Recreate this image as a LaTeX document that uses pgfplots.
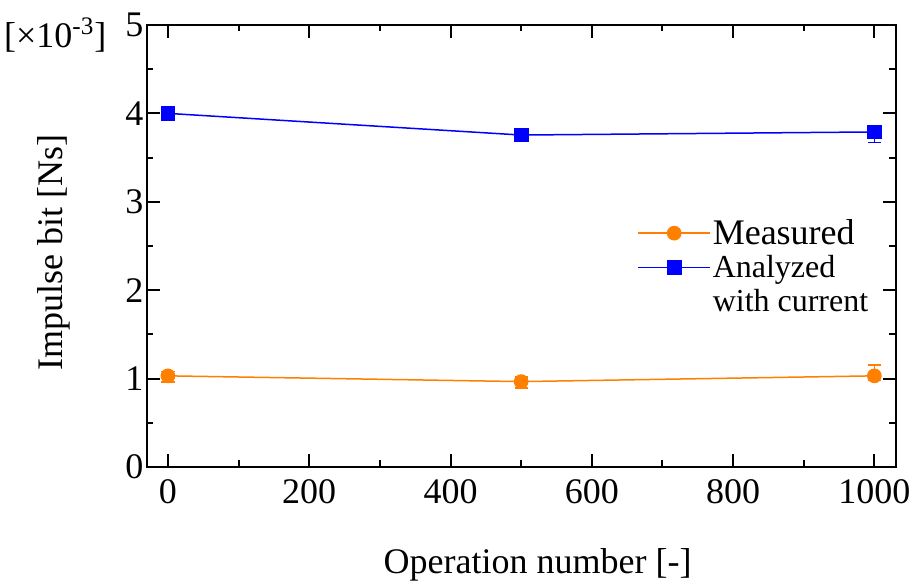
\documentclass[border=0pt]{standalone}
\usepackage{pgfplots}
\pgfplotsset{compat=1.18}
\usepackage{fontspec}
\setmainfont{Liberation Serif}

\definecolor{measured}{RGB}{255,128,0}
\definecolor{analyzed}{RGB}{0,0,255}

\begin{document}
\begin{tikzpicture}[font=\fontsize{18}{21.6}\selectfont]
\begin{axis}[
  scale only axis,
  width=374.5pt, height=221pt,
  xmin=-30, xmax=1030,
  ymin=0, ymax=5,
  xtick={0,200,...,1000},
  ytick={0,1,...,5},
  minor x tick num=1,
  minor y tick num=1,
  tick align=inside,
  major tick length=6.5pt,
  minor tick length=3.2pt,
  axis line style={line width=1pt},
  every tick/.style={line width=1pt, black},
  /pgf/number format/assume math mode=true,
  /pgf/number format/1000 sep={},
  yticklabel style={inner xsep=1.5pt},
  xticklabel style={inner ysep=6pt},
  xlabel={Operation number [-]},
  ylabel={Impulse bit [Ns]},
  xlabel style={at={(rel axis cs:0.522,-0.222)}, anchor=center},
  ylabel style={at={(rel axis cs:-0.124,0.486)}, anchor=center},
  clip=false,
  legend cell align=left,
  legend style={draw=none, fill=none, at={(rel axis cs:0.655,0.566)}, anchor=north west,
    row sep=1.5pt, inner sep=0pt,
    nodes={inner sep=1pt}},
  legend image code/.code={%
    \draw[mark repeat=2, mark phase=2, #1] plot coordinates {(0cm,0cm) (0.63cm,0cm) (1.26cm,0cm)};},
]
% measured impulse bit with error bars
\addplot[color=measured, line width=0.75pt, mark=*, mark size=3.3pt,
  error bars/.cd, y dir=both, y explicit,
  error bar style={line width=0.75pt},
  error mark=-,
  error mark options={line width=0.75pt, mark size=3.3pt, rotate=90}]
  table[x=x, y=y, y error plus=ep, y error minus=em] {
  x     y      ep    em
  0     1.03   0.05  0.07
  500   0.965  0.05  0.07
  1000  1.03   0.12  0.05
};
\addlegendentry{Measured}
% impulse bit analyzed from the discharge current
\addplot[color=analyzed, line width=0.75pt, mark=square*, mark size=3.3pt,
  error bars/.cd, y dir=both, y explicit,
  error bar style={line width=0.75pt},
  error mark=-,
  error mark options={line width=0.75pt, mark size=3.3pt, rotate=90}]
  table[x=x, y=y, y error plus=ep, y error minus=em] {
  x     y      ep    em
  0     4.00   0.06  0.06
  500   3.755  0.03  0.03
  1000  3.79   0.05  0.12
};
\addlegendentry{{\fontsize{16}{17}\selectfont\begin{tabular}[t]{@{}l@{}}Analyzed\\with current\end{tabular}}}
% exponent of the vertical axis
\node[anchor=base east, inner sep=0pt] at ([xshift=-20pt, yshift=-11pt]rel axis cs:0,1) {[×10\textsuperscript{-3}]};
% fix the overall canvas
\path (rel axis cs:-0.196,-0.262) rectangle (rel axis cs:1.028,1.0566);
\end{axis}
\end{tikzpicture}
\end{document}
